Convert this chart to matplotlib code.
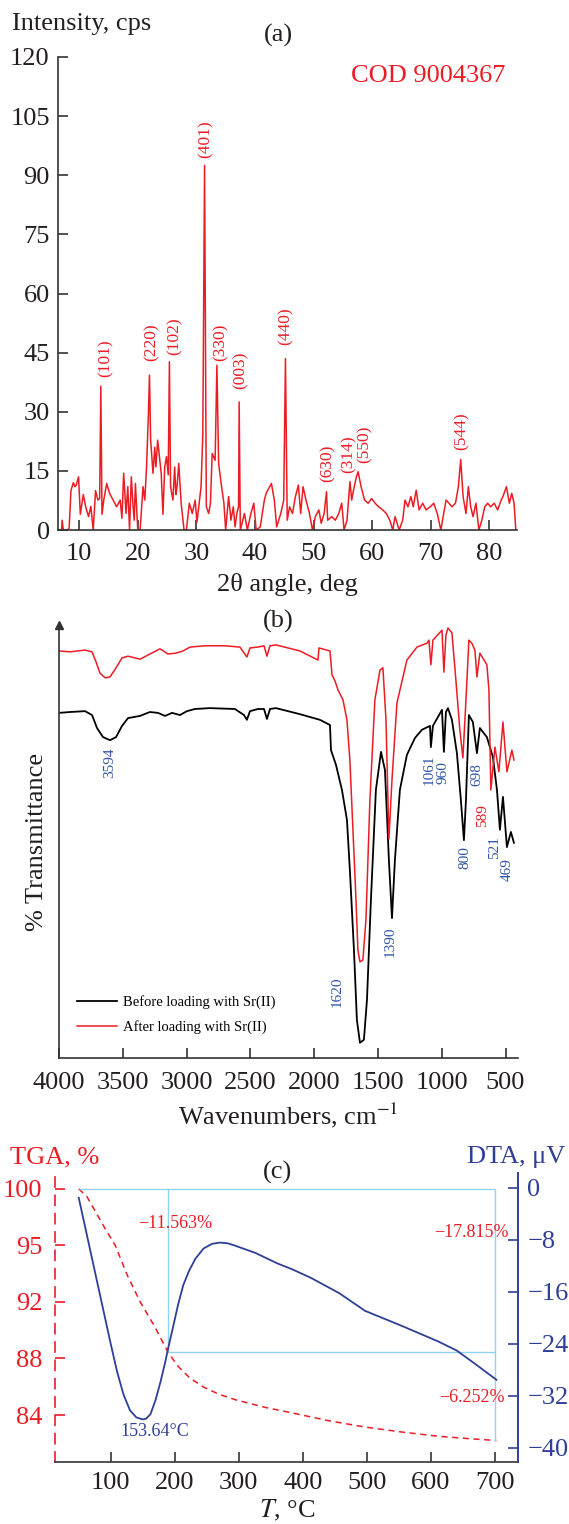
import numpy as np
import matplotlib.pyplot as plt

plt.rcParams['font.family'] = ['Liberation Serif', 'DejaVu Serif']
plt.rcParams['mathtext.fontset'] = 'stix'

RED = '#ec1c24'
BLUE = '#2e3f98'
LBLUE = '#2f55a8'
CYAN = '#8fd3f4'
DARK = '#231f20'

# (a) XRD pattern
two_theta = [6.6, 7.0, 7.1, 7.3, 8.0, 8.3, 8.6, 9.0, 9.3, 9.5, 9.9, 10.2, 10.7, 11.1, 11.6,
             12.0, 12.4, 12.8, 13.2, 13.5, 13.7, 13.9, 14.2, 14.7, 15.2, 15.8, 16.4, 17.0,
             17.3, 17.6, 18.0, 18.3, 18.6, 18.9, 19.2, 19.4, 19.6, 20.0, 20.4, 20.9, 21.2,
             21.5, 21.8, 22.0, 22.2, 22.6, 22.9, 23.1, 23.4, 23.7, 24.0, 24.3, 24.6, 24.9,
             25.2, 25.4, 25.6, 26.0, 26.3, 26.5, 26.7, 27.0, 27.4, 27.9, 28.3, 28.8, 29.3,
             29.8, 30.1, 30.4, 30.8, 31.1, 31.4, 31.7, 32.1, 32.4, 32.7, 33.2, 33.5, 33.8,
             34.3, 34.7, 35.0, 35.5, 35.9, 36.3, 36.6, 36.9, 37.2, 37.3, 37.5, 38.2, 38.7,
             39.3, 39.8, 40.2, 40.9, 41.6, 41.9, 42.5, 42.8, 43.3, 43.7, 44.4, 44.9, 45.2,
             45.5, 45.9, 46.4, 46.9, 47.4, 47.8, 48.2, 48.7, 49.3, 49.8, 50.3, 50.9, 51.3,
             51.8, 52.2, 52.4, 53.1, 53.7, 54.3, 54.8, 55.2, 55.7, 56.2, 56.5, 56.8, 57.3,
             57.6, 58.1, 58.7, 59.3, 59.9, 60.5, 61.1, 61.8, 62.4, 63.0, 63.5, 63.9, 64.6,
             65.2, 65.6, 66.1, 66.6, 67.0, 67.5, 68.0, 68.6, 69.2, 69.9, 70.5, 71.1, 71.7,
             72.2, 72.6, 73.1, 73.6, 74.2, 74.7, 75.1, 75.5, 76.0, 76.4, 76.8, 77.2, 77.7,
             78.2, 78.7, 79.2, 79.7, 80.2, 80.8, 81.4, 82.0, 82.3, 82.9, 83.4, 83.8, 84.2,
             84.5]
intensity = [0, 0, 2.5, 0, 0, 0.5, 10, 12, 11, 11.4, 13.5, 4, 9, 6, 3.4,
             6, 0, 10, 7.6, 8, 36.5, 4, 7.6, 11.8, 9.3, 7.6, 5.9, 7.6,
             3.0, 14.4, 4.2, 11, 0, 13.5, 6.0, 2.5, 11.8, 0, 0, 11, 7.6,
             16, 28.7, 39.3, 22.8, 14.4, 21.0, 16, 22.8, 18.6, 14.4, 4, 16, 18.6,
             14, 42.7, 11, 7.6, 16, 9.0, 11, 16.9, 6.8, 0, 0, 6.8, 4.2,
             7.6, 2.0, 5.9, 11, 24.5, 92.5, 5.9, 4.2, 6.8, 19.4, 17.7, 41.8, 16.9,
             11, 6.8, 0, 8.5, 2.5, 5.9, 0.8, 4.2, 6, 32.5, 0, 4.2, 0,
             4.2, 6.8, 0, 0.8, 7.6, 9.3, 11, 11.8, 7.6, 0.8, 4.2, 7.6, 43.5,
             2.5, 5.9, 4.2, 8.5, 11.4, 4.2, 11, 7.6, 4.2, 0, 3.4, 5.1, 1.7,
             4.2, 9.7, 2.5, 3.4, 2.5, 4.2, 6.8, 0, 2.5, 12.3, 7.6, 10.1, 13.5,
             14.8, 11, 7.6, 6.8, 8, 6.8, 5.9, 5.1, 4.2, 2.5, 0, 3.4, 0,
             2.5, 7.6, 5.9, 8.5, 5.9, 10.1, 5.1, 6.8, 5.1, 5.9, 6.8, 4.2, 0,
             4.2, 7.6, 6.8, 5.9, 6.8, 11, 17.9, 8.5, 4.2, 11, 5.9, 3.4, 6.8,
             0, 2.5, 5.9, 6.8, 5.9, 6.8, 5.1, 7.6, 8.5, 11, 6.8, 9.3, 6.8,
             0]
hkl_labels = ['(101)', '(220)', '(102)', '(401)', '(330)', '(003)', '(440)',
              '(630)', '(314)', '(550)', '(544)']
hkl_x = [14.5, 22.4, 26.3, 31.5, 34.1, 37.5, 45.3, 52.4, 55.9, 58.7, 75.3]
hkl_y = [38.8, 43.0, 44.3, 94.5, 43.0, 35.7, 46.9, 12.2, 14.4, 17.0, 20.3]

# (b) FTIR spectra
wn_before = [4000, 3914, 3796, 3741, 3702, 3655, 3600, 3553, 3506, 3459, 3365, 3287, 3224,
             3169, 3114, 3052, 2997, 2934, 2817, 2621, 2550, 2527, 2503, 2440, 2393, 2370,
             2346, 2299, 2111, 1955, 1876, 1868, 1829, 1782, 1743, 1720, 1688, 1665, 1641,
             1610, 1586, 1555, 1516, 1476, 1445, 1414, 1390, 1367, 1328, 1273, 1210, 1155,
             1092, 1085, 1069, 998, 983, 967, 951, 920, 881, 850, 826, 810, 787, 756, 724,
             701, 646, 599, 567, 544, 520, 489, 458, 434]
tr_before = [79.7, 79.9, 80.1, 79.2, 76.2, 74.1, 73.4, 74.1, 76.7, 78.5, 79.0, 79.9, 79.7,
             79.0, 79.7, 79.2, 80.1, 80.6, 80.8, 80.6, 79.2, 78.1, 80.1, 80.6, 80.6, 78.3,
             80.6, 80.8, 79.4, 78.1, 76.9, 71.1, 67.7, 61.9, 55.0, 43.4, 24.9, 8.8, 3.5,
             4.2, 13.4, 36.5, 61.9, 70.7, 66.5, 45.7, 32.3, 45.7, 61.9, 70.0, 73.9, 75.8,
             76.7, 71.8, 76.7, 80.4, 70.7, 79.9, 80.8, 78.1, 70.4, 59.6, 50.3, 59.6, 79.2,
             77.6, 70.4, 76.2, 74.1, 69.5, 61.9, 52.7, 60.3, 48.7, 52.2, 49.7]
wn_after = [4000, 3914, 3796, 3741, 3710, 3679, 3639, 3600, 3553, 3506, 3459, 3365, 3287,
            3208, 3146, 3083, 3028, 2973, 2856, 2699, 2582, 2527, 2503, 2440, 2393, 2370,
            2346, 2299, 2111, 1970, 1962, 1876, 1860, 1837, 1813, 1774, 1743, 1720, 1696,
            1672, 1657, 1641, 1618, 1594, 1563, 1524, 1484, 1461, 1437, 1414, 1390, 1351,
            1273, 1194, 1116, 1100, 1085, 1069, 998, 983, 967, 951, 920, 889, 858, 834,
            810, 787, 764, 740, 724, 701, 646, 630, 615, 583, 552, 520, 489, 450, 434]
tr_after = [94.0, 93.8, 94.2, 93.8, 91.5, 88.9, 87.8, 88.0, 90.1, 92.4, 92.8, 92.1, 93.3,
            94.5, 93.3, 93.5, 94.0, 94.9, 95.2, 95.2, 94.9, 92.6, 94.7, 94.9, 95.2, 92.8,
            95.2, 95.4, 94.0, 91.9, 94.7, 94.0, 88.5, 87.1, 85.0, 82.7, 78.1, 68.8, 52.7,
            36.5, 24.9, 22.2, 22.6, 31.9, 59.6, 82.7, 89.6, 90.1, 78.1, 50.6, 64.2, 82.0,
            91.9, 94.9, 95.8, 96.5, 90.8, 96.5, 98.8, 89.1, 97.7, 99.3, 98.2, 87.3, 75.8,
            69.3, 82.7, 96.5, 95.8, 94.2, 88.0, 93.5, 90.8, 85.0, 61.9, 71.8, 66.1, 77.6,
            66.1, 71.1, 68.8]
band_labels = ['3594', '1620', '1390', '1061', '960', '698', '589', '800', '521', '469']
band_x = [3600, 1821, 1406, 1100, 990, 724, 677, 818, 583, 489]
band_y = [68.1, 15.2, 26.8, 66.5, 66.0, 65.4, 56.1, 46.2, 48.5, 43.4]
band_red = [False, False, False, False, False, False, True, False, False, False]

# (c) thermal analysis
temp_tga = [50, 63, 79, 92, 107, 126, 146, 168, 190, 205, 224, 246, 270, 297, 340, 383,
            440, 497, 554, 611, 668, 702]
tga = [100, 99.3, 97.7, 96.4, 95.0, 93.4, 92.0, 90.3, 88.4, 87.45, 86.6, 85.95, 85.45,
       85.05, 84.55, 84.15, 83.6, 83.15, 82.8, 82.5, 82.3, 82.2]
temp_dta = [50, 60, 70, 80, 90, 100, 110, 120, 130, 140, 150, 155, 162, 170, 178, 185, 190,
            197, 205, 213, 222, 232, 245, 258, 270, 282, 292, 326, 360, 383, 412, 457, 497,
            554, 611, 640, 668, 702]
dta = [-1.5, -6, -10.5, -15, -19.5, -24, -28.3, -31.8, -34.2, -35.3, -35.6, -35.5, -34.8,
       -32.6, -29.7, -26.8, -24.5, -21.5, -18, -15.0, -12.8, -10.9, -9.3, -8.6, -8.4,
       -8.5, -8.8, -10, -11.6, -12.5, -13.8, -16.2, -18.9, -21.2, -23.6, -25, -27, -29.5]
tga_ticks = [100, 95, 92, 88, 84]
dta_ticks = [0, -8, -16, -24, -32, -40]
loss_step = 11.563
loss_total = 17.815
loss_second = 6.252
t_step = 190
t_end = 700
t_peak = 153.64


def tga_fwd(v):
    v = np.asarray(v, float)
    out = -np.interp(v, tga_ticks[::-1], [4, 3, 2, 1, 0])
    out = np.where(v > 100, (v - 100) / 5, out)
    out = np.where(v < 84, -4 - (84 - v) / 4, out)
    return out


def tga_inv(p):
    p = np.asarray(p, float)
    out = np.interp(-p, [0, 1, 2, 3, 4], tga_ticks)
    out = np.where(p > 0, 100 + 5 * p, out)
    out = np.where(p < -4, 84 - 4 * (-p - 4), out)
    return out


fig = plt.figure(figsize=(5.69, 15.24), dpi=100)
FS = 19

# ---------- (a)
ax = fig.add_axes([0.102, 0.6522, 0.8066, 0.3104])
ax.plot(two_theta, intensity, color=RED, lw=1.1)
ax.set_xlim(6.4, 84.7)
ax.set_ylim(0, 120)
ax.set_xticks(range(10, 81, 10))
ax.set_yticks(range(0, 121, 15))
for s in ['top', 'right']:
    ax.spines[s].set_visible(False)
for s in ['left', 'bottom']:
    ax.spines[s].set_color('#333333')
    ax.spines[s].set_linewidth(1.2)
ax.tick_params(direction='in', length=7, width=1.2, labelsize=FS, pad=6,
               colors='#333333', labelcolor=DARK)
ax.tick_params(axis='x', pad=9)
for lab, x, y in zip(hkl_labels, hkl_x, hkl_y):
    ax.text(x, y, lab, color=RED, rotation=90, ha='center', va='bottom', fontsize=12.5)
ax.text(69.6, 115.3, 'COD 9004367', color=RED, fontsize=FS, ha='center', va='center')
ax.set_xlabel('2θ angle, deg', fontsize=FS, color=DARK, labelpad=6)
fig.text(12 / 569, 1 - 24 / 1524, 'Intensity, cps', fontsize=FS, color=DARK,
         ha='left', va='center')
fig.text(278 / 569, 1 - 35 / 1524, '(a)', fontsize=FS, color=DARK, ha='center', va='center')

# ---------- (b)
bx = fig.add_axes([0.1037, 0.3058, 0.8058, 0.2841])
bx.plot(wn_before, tr_before, color='black', lw=1.3, label='Before loading with Sr(II)')
bx.plot(wn_after, tr_after, color=RED, lw=1.1, label='After loading with Sr(II)')
bx.set_xlim(4000, 406)
bx.set_ylim(0, 100)
bx.set_xticks(range(4000, 499, -500))
bx.set_yticks([])
for s in ['top', 'right']:
    bx.spines[s].set_visible(False)
for s in ['left', 'bottom']:
    bx.spines[s].set_color('#333333')
    bx.spines[s].set_linewidth(1.2)
bx.plot([0], [1], marker='^', color='#333333', markersize=6, transform=bx.transAxes,
        clip_on=False)
bx.tick_params(direction='in', length=7, width=1.2, labelsize=FS, pad=10,
               colors='#333333', labelcolor=DARK)
for lab, x, y, r in zip(band_labels, band_x, band_y, band_red):
    bx.text(x, y, lab, color=RED if r else LBLUE, rotation=90, ha='center', va='center',
            fontsize=11)
bx.legend(loc='lower left', bbox_to_anchor=(0.04, 0.055), frameon=False, fontsize=10.5,
          handlelength=2.7, handletextpad=0.4, labelspacing=0.75, borderpad=0,
          borderaxespad=0)
bx.set_xlabel('Wavenumbers, cm$^{-1}$', fontsize=FS, color=DARK, labelpad=5)
bx.set_ylabel('% Transmittance', fontsize=FS, color=DARK, labelpad=8)
fig.text(278 / 569, 1 - 621 / 1524, '(b)', fontsize=FS, color=DARK, ha='center', va='center')

# ---------- (c)
cx = fig.add_axes([0.0967, 0.0407, 0.8128, 0.1896])
cx.set_yscale('function', functions=(tga_fwd, tga_inv))
cx.set_ylim(80.68, 101.4)
cx.set_xlim(13, 735)
cx.plot(temp_tga, tga, color=RED, lw=1.1, dashes=(4, 3))
cx.hlines(100, temp_tga[0], t_end, color=CYAN, lw=1)
cx.hlines(100 - loss_step, t_step, t_end, color=CYAN, lw=1)
cx.vlines(t_step, 100 - loss_step, 100, color=CYAN, lw=1)
cx.vlines(t_end, 100 - loss_total, 100, color=CYAN, lw=1)
cx.set_yticks(tga_ticks)
cx.set_yticklabels([str(t) for t in tga_ticks])
cx.minorticks_off()
cx.set_xticks(range(100, 701, 100))
cx.spines['top'].set_visible(False)
cx.spines['right'].set_visible(False)
cx.spines['left'].set_color(RED)
cx.spines['left'].set_linestyle((0, (6, 5)))
cx.spines['left'].set_linewidth(1.2)
cx.spines['bottom'].set_color('#333333')
cx.spines['bottom'].set_linewidth(1.2)
cx.tick_params(axis='y', direction='in', length=7, width=1.2, labelsize=FS, pad=9,
               colors=RED, labelcolor=RED)
cx.tick_params(axis='x', direction='in', length=7, width=1.2, labelsize=FS, pad=7,
               colors='#333333', labelcolor=DARK)
cx.text(200, 96.9, '−%.3f%%' % loss_step, color=RED, fontsize=13, ha='center', va='center')

dx = cx.twinx()
dx.plot(temp_dta, dta, color=BLUE, lw=1.3)
dx.set_ylim(-42.15, 2.3)
dx.set_yticks(dta_ticks)
dx.set_yticklabels([str(t).replace('-', '−') for t in dta_ticks])
for s in ['top', 'left', 'bottom']:
    dx.spines[s].set_visible(False)
dx.spines['right'].set_color(BLUE)
dx.spines['right'].set_linewidth(1.4)
dx.tick_params(axis='y', direction='in', length=7, width=1.2, labelsize=FS, pad=7,
               colors=BLUE, labelcolor=BLUE)
dx.text(663, -6.9, '−%.3f%%' % loss_total, color=RED, fontsize=13, ha='center', va='center')
dx.text(663, -32.2, '−%.3f%%' % loss_second, color=RED, fontsize=13, ha='center', va='center')
dx.text(169, -37.5, '%.2f°C' % t_peak, color=BLUE, fontsize=13, ha='center', va='center')

fig.text(287 / 569, 1 - 1510 / 1524, '$T$, °C', fontsize=FS, color=DARK, ha='center',
         va='center')
fig.text(10 / 569, 1 - 1157 / 1524, 'TGA, %', fontsize=FS, color=RED, ha='left', va='center')
fig.text(565 / 569, 1 - 1157 / 1524, 'DTA, μV', fontsize=FS, color=BLUE, ha='right',
         va='center')
fig.text(278 / 569, 1 - 1172 / 1524, '(c)', fontsize=FS, color=DARK, ha='center', va='center')

fig.savefig('out.png', dpi=100)
